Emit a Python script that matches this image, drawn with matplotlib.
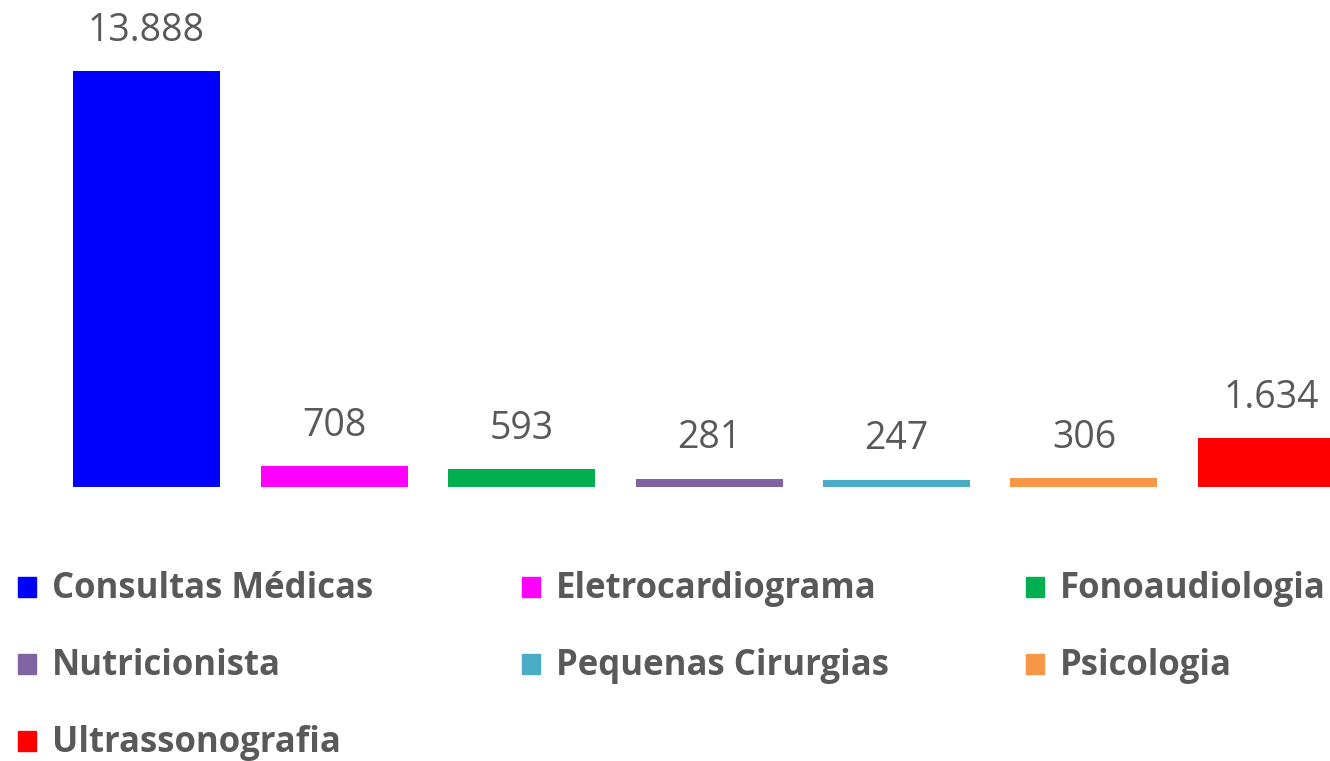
import matplotlib.pyplot as plt
from matplotlib.patches import Rectangle

categories = ["Consultas Médicas", "Eletrocardiograma", "Fonoaudiologia",
              "Nutricionista", "Pequenas Cirurgias", "Psicologia", "Ultrassonografia"]
values = [13888, 708, 593, 281, 247, 306, 1634]
labels = ["13.888", "708", "593", "281", "247", "306", "1.634"]
colors = ["#0000FF", "#FF00FF", "#00B050", "#8064A2", "#4BACC6", "#F79646", "#FF0000"]

font = ["Open Sans", "DejaVu Sans"]

W, H = 1330, 761
fig = plt.figure(figsize=(W / 100, H / 100), dpi=100)

# axes spans categories -0.5..6.5, extends past right edge like the original
left = 52.75 / W
width = (7 * 187.5) / W
bottom = 1 - 487 / H
ax = fig.add_axes([left, bottom, width, 487 / H])
x = range(len(categories))
ax.bar(x, values, width=0.784, color=colors)
ax.set_xlim(-0.5, 6.5)
ax.set_ylim(0, 13888 * 487 / 416)
ax.axis("off")

for i, (v, lab) in enumerate(zip(values, labels)):
    ax.annotate(lab, (i, v), xytext=(0, 29), textcoords="offset points",
                ha="center", va="center", fontsize=27, color="#595959",
                family=font)

# legend drawn by hand, 3 columns
for i, (cat, c) in enumerate(zip(categories, colors)):
    col, row = i % 3, i // 3
    x0 = 18 + col * 504
    yc = 587 + row * 77
    fig.patches.append(Rectangle((x0 / W, 1 - (yc + 10) / H), 18 / W, 20 / H,
                                 transform=fig.transFigure, color=c))
    fig.text((x0 + 34) / W, 1 - (yc + 2) / H, cat, ha="left", va="center",
             fontsize=25, fontweight="bold", color="#595959", family=font)

fig.savefig("out.png", dpi=100)
